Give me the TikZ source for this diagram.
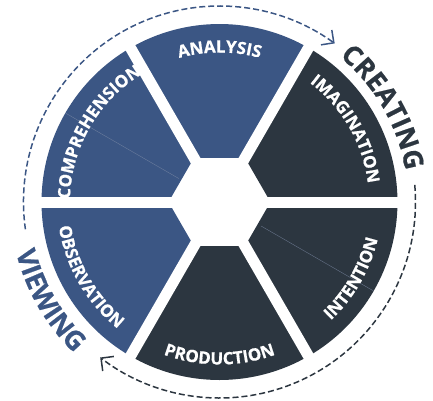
\documentclass[tikz,border=0pt]{standalone}
\usepackage{fontspec}
\setmainfont{Open Sans}[BoldFeatures = {FakeBold = 0.6}]
\usepackage{tikz}
\usetikzlibrary{decorations.text, arrows.meta}

\definecolor{wheelblue}{HTML}{3B5684}
\definecolor{wheeldark}{HTML}{2C3640}
\definecolor{seamcol}{HTML}{7F8DA8}

\newcommand{\segfont}{\fontsize{17}{17}\selectfont\bfseries}
\newcommand{\cyclefont}{\fontsize{27}{27}\selectfont\bfseries}

\begin{document}
\begin{tikzpicture}[x = 1pt, y = 1pt, % one unit = one pixel
                > = {Straight Barb[angle=90:13pt]}, % open arrow head
                line join = round
            ]

            \tikzstyle{gap}=[white, line width = 11pt]
            \tikzstyle{seam}=[seamcol, line width = 0.4pt, opacity = 0.7]
            \tikzstyle{cycleline}=[->, line width = 1.5pt, dash pattern = on 6pt off 3pt]
            \tikzstyle{seglabel}=[decorate, decoration = {text along path,
            text align = center, text color = white, text = {#1}}]
            \tikzstyle{cyclelabel}=[decorate, decoration = {text along path,
            text align = center, text = {#1}}]

            \useasboundingbox (-219.5,-198) rectangle (213.5,202);

            % the six sectors round the hexagon
            \foreach \ang/\col in {90/wheelblue, 150/wheelblue, 210/wheelblue,
            30/wheeldark, 330/wheeldark, 270/wheeldark}
            \fill[\col] ({\ang-30}:51) -- ({\ang-30}:178) arc[start angle =
            \ang-30, end angle = \ang+30, radius = 178] -- ({\ang+30}:51) -- cycle;

            \draw[seam] (150:47) -- (150:178); \draw[seam] (330:48) -- (330:178);

            \foreach \a in {0,60,...,300} \draw[gap] (0,0) -- (\a:187);

            % labels, top half clockwise, bottom half anticlockwise
            \path[seglabel = {|\segfont|ANALYSIS}] (120:149.5) arc[start angle = 120,
            end angle = 60, radius = 149.5];
            \path[seglabel = {|\segfont|IMAGINATION}] (60:149.5) arc[start angle = 60,
            end angle = 0, radius = 149.5];
            \path[seglabel = {|\segfont|COMPREHENSION}] (180:149.5) arc[start angle =
            180, end angle = 120, radius = 149.5];
            \path[seglabel = {|\segfont|OBSERVATION}] (180:162.5) arc[start angle =
            180, end angle = 240, radius = 162.5];
            \path[seglabel = {|\segfont|PRODUCTION}] (240:162.5) arc[start angle = 240,
            end angle = 300, radius = 162.5];
            \path[seglabel = {|\segfont|INTENTION}] (300:162.5) arc[start angle = 300,
            end angle = 360, radius = 162.5];

            % the cycle round the wheel
            \coordinate (viewend) at (188:196); \coordinate (createend) at (5:196);

            \draw[cycleline, wheelblue] (viewend) arc[start angle = 188, end angle =
            54, radius = 196];
            \draw[cycleline, wheeldark] (createend) arc[start angle = 5, end angle =
            -127.5, radius = 196];

            \path[cyclelabel = {|\cyclefont\color{wheeldark}|CREATING}] (75:188.5)
            arc[start angle = 75, end angle = -15, radius = 188.5];
            \path[cyclelabel = {|\cyclefont\color{wheelblue}|VIEWING}] (165:209.5)
            arc[start angle = 165, end angle = 255, radius = 209.5];
        \end{tikzpicture}
\end{document}
